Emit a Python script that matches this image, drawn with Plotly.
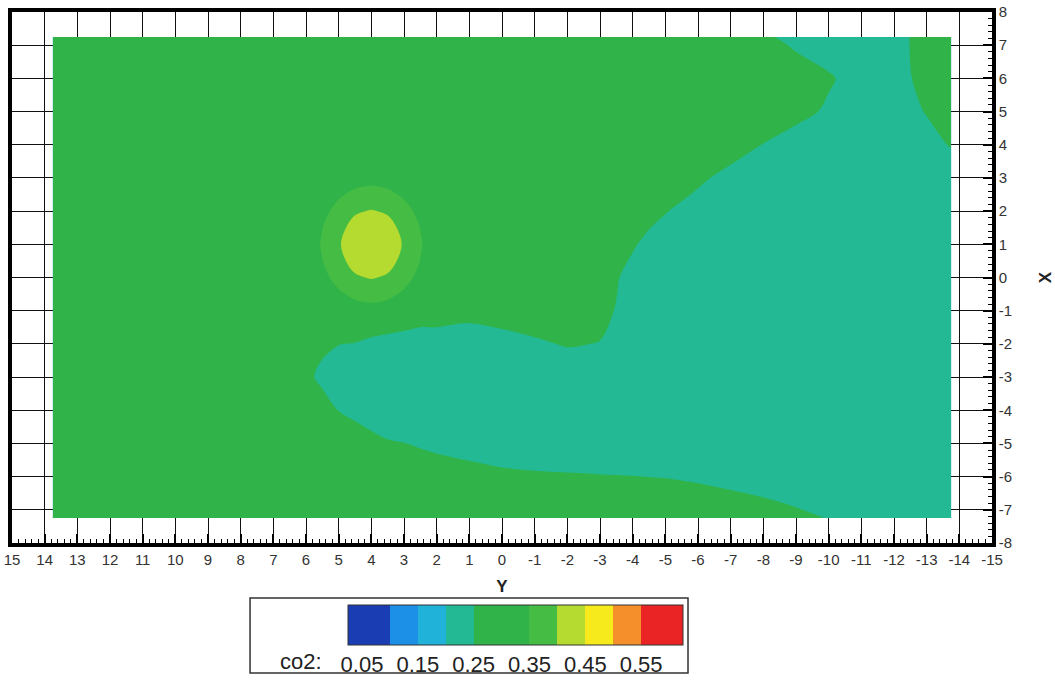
import plotly.graph_objects as go

# Sample positions of the co2 field: columns are Y positions, rows are X positions (top to bottom).
# The grid is finer around the high-concentration spot near Y=4, X=1.
y_cols = [13.75, 13, 12, 11, 10, 9, 8, 7,
          6, 5.5, 5, 4.5, 4, 3.5, 3, 2.5, 2,
          1, 0, -1, -2, -3, -4, -5, -6, -7, -8, -9, -10, -11, -12, -13, -13.75]
x_rows = [7.25, 7, 6, 5, 4, 3, 2.5, 2, 1.5, 1, 0.5, 0, -0.5, -1, -2, -3, -4, -5, -6, -7, -7.25]

co2 = [
    # X = 7.25
    [0.29, 0.29, 0.29, 0.29, 0.29, 0.29, 0.29, 0.29,
     0.29, 0.29, 0.29, 0.29, 0.29, 0.29, 0.29, 0.29, 0.29,
     0.29, 0.29, 0.29, 0.29, 0.29, 0.29, 0.29, 0.29, 0.29, 0.264, 0.224, 0.21, 0.21, 0.231, 0.271, 0.29],
    # X = 7
    [0.29, 0.29, 0.29, 0.29, 0.29, 0.29, 0.29, 0.29,
     0.29, 0.29, 0.29, 0.29, 0.29, 0.29, 0.29, 0.29, 0.29,
     0.29, 0.29, 0.29, 0.29, 0.29, 0.29, 0.29, 0.29, 0.29, 0.280, 0.240, 0.21, 0.21, 0.231, 0.271, 0.29],
    # X = 6
    [0.29, 0.29, 0.29, 0.29, 0.29, 0.29, 0.29, 0.29,
     0.29, 0.29, 0.29, 0.29, 0.29, 0.29, 0.29, 0.29, 0.29,
     0.29, 0.29, 0.29, 0.29, 0.29, 0.29, 0.29, 0.29, 0.29, 0.29, 0.29, 0.26, 0.212, 0.228, 0.268, 0.29],
    # X = 5
    [0.29, 0.29, 0.29, 0.29, 0.29, 0.29, 0.29, 0.29,
     0.29, 0.29, 0.29, 0.29, 0.29, 0.29, 0.29, 0.29, 0.29,
     0.29, 0.29, 0.29, 0.29, 0.29, 0.29, 0.29, 0.29, 0.29, 0.29, 0.277, 0.237, 0.21, 0.214, 0.254, 0.284],
    # X = 4
    [0.29, 0.29, 0.29, 0.29, 0.29, 0.29, 0.29, 0.29,
     0.29, 0.29, 0.29, 0.29, 0.29, 0.29, 0.29, 0.29, 0.29,
     0.29, 0.29, 0.29, 0.29, 0.29, 0.29, 0.29, 0.29, 0.288, 0.248, 0.21, 0.21, 0.21, 0.21, 0.225, 0.255],
    # X = 3
    [0.29, 0.29, 0.29, 0.29, 0.29, 0.29, 0.29, 0.29,
     0.29, 0.29, 0.312, 0.327, 0.333, 0.327, 0.312, 0.29, 0.29,
     0.29, 0.29, 0.29, 0.29, 0.29, 0.29, 0.29, 0.265, 0.225, 0.21, 0.21, 0.21, 0.21, 0.21, 0.21, 0.21],
    # X = 2.5
    [0.29, 0.29, 0.29, 0.29, 0.29, 0.29, 0.29, 0.29,
     0.29, 0.314, 0.342, 0.362, 0.369, 0.362, 0.342, 0.314, 0.29,
     0.29, 0.29, 0.29, 0.29, 0.29, 0.29, 0.281, 0.241, 0.21, 0.21, 0.21, 0.21, 0.21, 0.21, 0.21, 0.21],
    # X = 2
    [0.29, 0.29, 0.29, 0.29, 0.29, 0.29, 0.29, 0.29,
     0.30, 0.335, 0.368, 0.395, 0.403, 0.395, 0.368, 0.335, 0.30,
     0.29, 0.29, 0.29, 0.29, 0.29, 0.29, 0.254, 0.214, 0.21, 0.21, 0.21, 0.21, 0.21, 0.21, 0.21, 0.21],
    # X = 1.5
    [0.29, 0.29, 0.29, 0.29, 0.29, 0.29, 0.29, 0.29,
     0.311, 0.349, 0.388, 0.415, 0.427, 0.415, 0.388, 0.349, 0.311,
     0.29, 0.29, 0.29, 0.29, 0.29, 0.272, 0.232, 0.21, 0.21, 0.21, 0.21, 0.21, 0.21, 0.21, 0.21, 0.21],
    # X = 1
    [0.29, 0.29, 0.29, 0.29, 0.29, 0.29, 0.29, 0.29,
     0.315, 0.355, 0.396, 0.424, 0.450, 0.424, 0.396, 0.355, 0.315,
     0.29, 0.29, 0.29, 0.29, 0.29, 0.256, 0.216, 0.21, 0.21, 0.21, 0.21, 0.21, 0.21, 0.21, 0.21, 0.21],
    # X = 0.5
    [0.29, 0.29, 0.29, 0.29, 0.29, 0.29, 0.29, 0.29,
     0.311, 0.349, 0.388, 0.415, 0.427, 0.415, 0.388, 0.349, 0.311,
     0.29, 0.29, 0.29, 0.29, 0.284, 0.244, 0.21, 0.21, 0.21, 0.21, 0.21, 0.21, 0.21, 0.21, 0.21, 0.21],
    # X = 0
    [0.29, 0.29, 0.29, 0.29, 0.29, 0.29, 0.29, 0.29,
     0.30, 0.335, 0.368, 0.395, 0.403, 0.395, 0.368, 0.335, 0.30,
     0.29, 0.29, 0.29, 0.29, 0.274, 0.234, 0.21, 0.21, 0.21, 0.21, 0.21, 0.21, 0.21, 0.21, 0.21, 0.21],
    # X = -0.5
    [0.29, 0.29, 0.29, 0.29, 0.29, 0.29, 0.29, 0.29,
     0.29, 0.314, 0.342, 0.362, 0.369, 0.362, 0.342, 0.314, 0.29,
     0.285, 0.29, 0.29, 0.29, 0.271, 0.231, 0.21, 0.21, 0.21, 0.21, 0.21, 0.21, 0.21, 0.21, 0.21, 0.21],
    # X = -1
    [0.29, 0.29, 0.29, 0.29, 0.29, 0.29, 0.29, 0.29,
     0.29, 0.29, 0.30, 0.327, 0.333, 0.327, 0.30, 0.29, 0.29,
     0.265, 0.272, 0.282, 0.29, 0.267, 0.227, 0.21, 0.21, 0.21, 0.21, 0.21, 0.21, 0.21, 0.21, 0.21, 0.21],
    # X = -2
    [0.29, 0.29, 0.29, 0.29, 0.29, 0.29, 0.29, 0.29,
     0.29, 0.263, 0.251, 0.247, 0.229, 0.217, 0.218, 0.21, 0.21,
     0.225, 0.232, 0.242, 0.254, 0.248, 0.21, 0.21, 0.21, 0.21, 0.21, 0.21, 0.21, 0.21, 0.21, 0.21, 0.21],
    # X = -3
    [0.29, 0.29, 0.29, 0.29, 0.29, 0.29, 0.29, 0.29,
     0.266, 0.235, 0.226, 0.21, 0.21, 0.21, 0.21, 0.21, 0.21,
     0.21, 0.21, 0.21, 0.214, 0.21, 0.21, 0.21, 0.21, 0.21, 0.21, 0.21, 0.21, 0.21, 0.21, 0.21, 0.21],
    # X = -4
    [0.29, 0.29, 0.29, 0.29, 0.29, 0.29, 0.29, 0.29,
     0.29, 0.278, 0.249, 0.237, 0.225, 0.215, 0.21, 0.21, 0.21,
     0.21, 0.21, 0.21, 0.21, 0.21, 0.21, 0.21, 0.21, 0.21, 0.21, 0.21, 0.21, 0.21, 0.21, 0.21, 0.21],
    # X = -5
    [0.29, 0.29, 0.29, 0.29, 0.29, 0.29, 0.29, 0.29,
     0.29, 0.29, 0.29, 0.277, 0.265, 0.255, 0.251, 0.244, 0.238,
     0.229, 0.221, 0.217, 0.215, 0.213, 0.21, 0.21, 0.21, 0.21, 0.21, 0.21, 0.21, 0.21, 0.21, 0.21, 0.21],
    # X = -6
    [0.29, 0.29, 0.29, 0.29, 0.29, 0.29, 0.29, 0.29,
     0.29, 0.29, 0.29, 0.29, 0.29, 0.29, 0.29, 0.284, 0.278,
     0.269, 0.261, 0.257, 0.255, 0.253, 0.251, 0.248, 0.242, 0.234, 0.225, 0.213, 0.21, 0.21, 0.21, 0.21, 0.21],
    # X = -7
    [0.29, 0.29, 0.29, 0.29, 0.29, 0.29, 0.29, 0.29,
     0.29, 0.29, 0.29, 0.29, 0.29, 0.29, 0.29, 0.29, 0.29,
     0.29, 0.29, 0.29, 0.29, 0.29, 0.29, 0.288, 0.282, 0.274, 0.265, 0.253, 0.238, 0.219, 0.21, 0.21, 0.21],
    # X = -7.25
    [0.29, 0.29, 0.29, 0.29, 0.29, 0.29, 0.29, 0.29,
     0.29, 0.29, 0.29, 0.29, 0.29, 0.29, 0.29, 0.29, 0.29,
     0.29, 0.29, 0.29, 0.29, 0.29, 0.29, 0.29, 0.29, 0.284, 0.275, 0.263, 0.248, 0.229, 0.212, 0.21, 0.21],
]

# Axis tick positions and their printed labels
y_ticks = [15, 14, 13, 12, 11, 10, 9, 8, 7, 6, 5, 4, 3, 2, 1, 0,
           -1, -2, -3, -4, -5, -6, -7, -8, -9, -10, -11, -12, -13, -14, -15]
y_tick_text = ["15", "14", "13", "12", "11", "10", "9", "8", "7", "6", "5", "4", "3", "2", "1", "0",
               "-1", "-2", "-3", "-4", "-5", "-6", "-7", "-8", "-9", "-10", "-11", "-12", "-13", "-14", "-15"]
x_ticks = [8, 7, 6, 5, 4, 3, 2, 1, 0, -1, -2, -3, -4, -5, -6, -7, -8]
x_tick_text = ["8", "7", "6", "5", "4", "3", "2", "1", "0",
               "-1", "-2", "-3", "-4", "-5", "-6", "-7", "-8"]

# Contour levels and one colour per band (below 0.05 ... above 0.6)
level_start, level_end, level_step = 0.05, 0.6, 0.05
band_colors = ["#1b3db4", "#1b3db4", "#1c8fe6", "#20b2d8", "#23b994",
               "#30b44a", "#30b44a", "#45bc43", "#b6db30", "#f6ea1c",
               "#f48f2b", "#ea2424", "#ea2424"]
colorscale = [[i / (len(band_colors) - 1), c] for i, c in enumerate(band_colors)]
legend_ticks = [0.05, 0.15, 0.25, 0.35, 0.45, 0.55]
legend_tick_text = ["0.05", "0.15", "0.25", "0.35", "0.45", "0.55"]

fig = go.Figure()
fig.add_trace(go.Contour(
    x=y_cols, y=x_rows, z=co2,
    contours=dict(start=level_start, end=level_end, size=level_step,
                  coloring="fill", showlines=False),
    colorscale=colorscale,
    line=dict(width=0, smoothing=1.0),
    colorbar=dict(
        orientation="h", lenmode="pixels", len=335, thickness=40,
        x=0.5138, xanchor="center", y=-0.1168, yanchor="top",
        xpad=0, ypad=0, outlinewidth=1, outlinecolor="#333",
        tickmode="array", tickvals=legend_ticks, ticktext=legend_tick_text,
        ticks="",
        tickfont=dict(family="Liberation Sans, Arial", size=22, color="#222"),
    ),
))

tick_font = dict(family="Liberation Sans Narrow, Arial Narrow, Liberation Sans, Arial",
                 size=15, color="#333")
axis_common = dict(
    showgrid=True, gridcolor="#111", gridwidth=1.2,
    showline=True, linecolor="black", linewidth=3.5, mirror=True,
    ticks="inside", ticklen=9, tickwidth=2, tickcolor="black",
    minor=dict(dtick=0.2, ticks="inside", ticklen=4, tickwidth=1,
               tickcolor="black", showgrid=False),
    zeroline=False, tickfont=tick_font, tickmode="array", automargin=False,
)

fig.update_layout(
    width=1055, height=683,
    margin=dict(l=12, r=63, t=12, b=140, autoexpand=False),
    paper_bgcolor="white", plot_bgcolor="white",
    xaxis=dict(range=[15, -15], tickvals=y_ticks, ticktext=y_tick_text, **axis_common,
               title=dict(text="<b>Y</b>", standoff=14,
                          font=dict(family="Liberation Sans, Arial", size=17, color="#222"))),
    yaxis=dict(range=[-8, 8], side="right", tickvals=x_ticks, ticktext=x_tick_text, **axis_common,
               title=dict(text="<b>X</b>", standoff=32,
                          font=dict(family="Liberation Sans, Arial", size=17, color="#222"))),
    shapes=[dict(type="rect", xref="paper", yref="paper",
                 x0=0.2429, x1=0.6898, y0=-0.2448, y1=-0.1036,
                 line=dict(color="#333", width=1.5), fillcolor="rgba(0,0,0,0)")],
    annotations=[dict(text="co2:", xref="paper", yref="paper", x=0.295, y=-0.224,
                      xanchor="center", yanchor="middle", showarrow=False,
                      font=dict(family="Liberation Sans, Arial", size=22, color="#222"))],
)

fig.write_html("out.html")
